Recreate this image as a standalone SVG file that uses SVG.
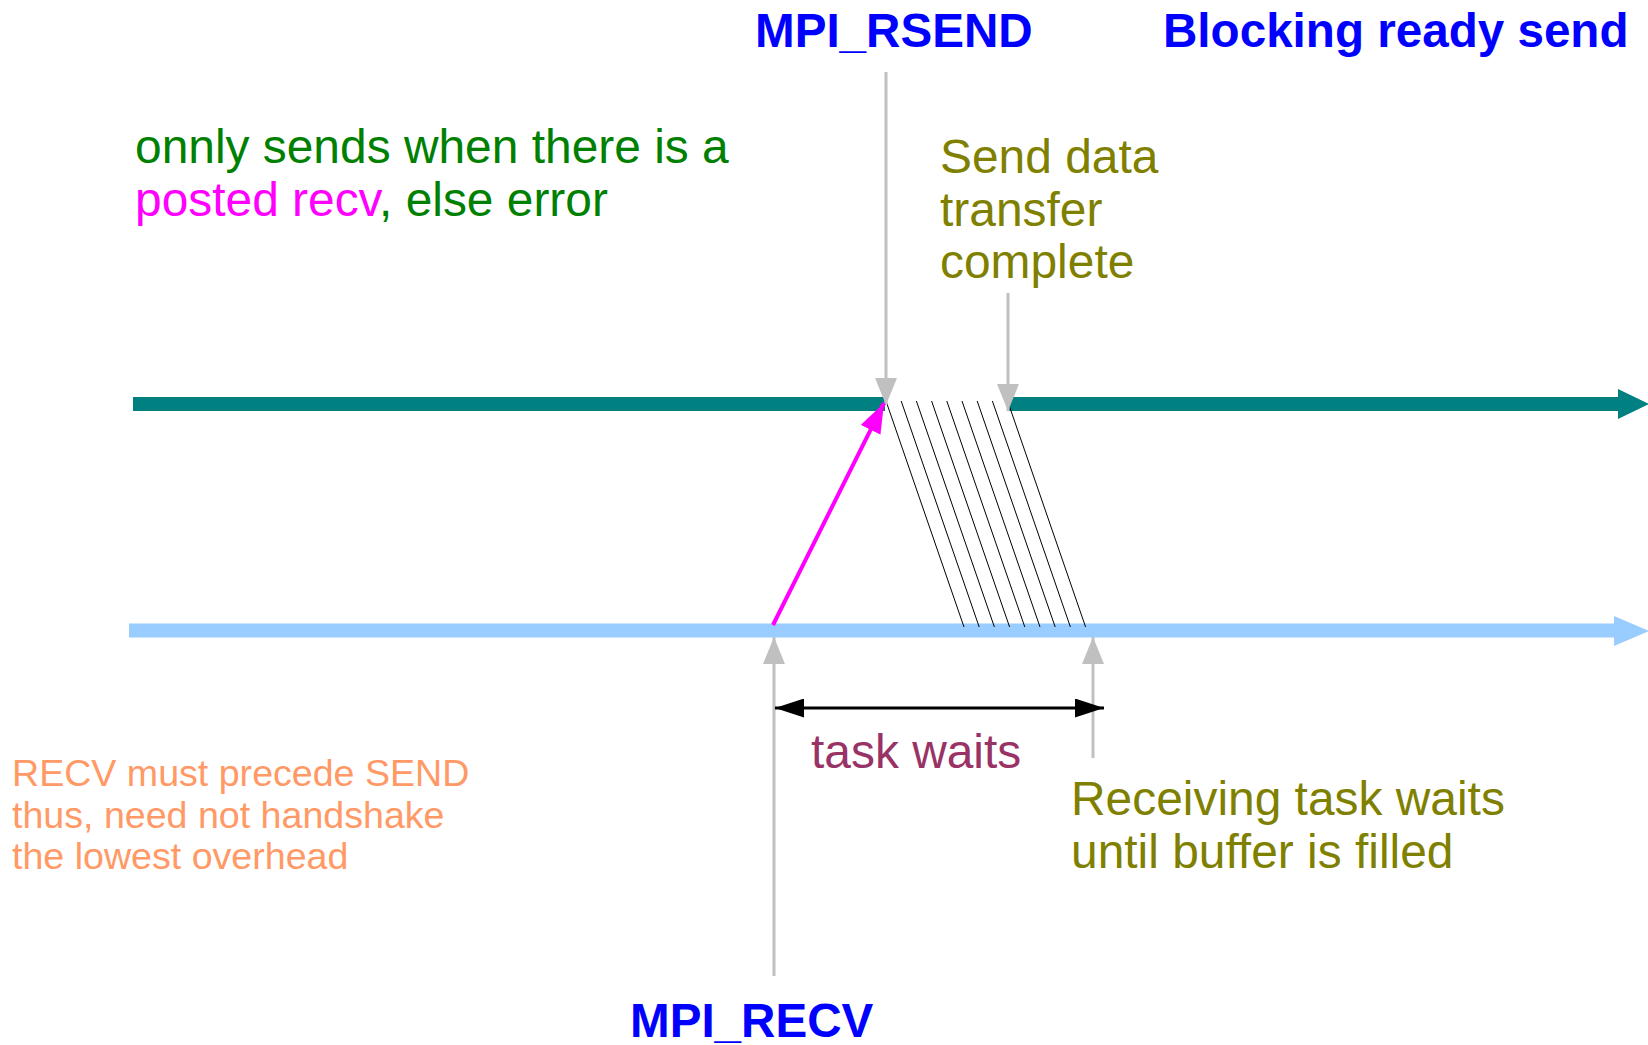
<svg xmlns="http://www.w3.org/2000/svg" width="1648" height="1045" viewBox="0 0 1648 1045">
<style>
text{font-family:"Liberation Sans",Arial,sans-serif}
.title{font-size:47.6px;font-weight:bold;fill:#0000ff}
.big{font-size:47.9px}
.green{fill:#008000}
.mag{fill:#ff00ff}
.olive{fill:#808000}
.orange{fill:#ff9966;font-size:37.6px}
.purple{fill:#993366}
.gray{stroke:#c0c0c0;stroke-width:3;fill:none}
.hatch{stroke:#000;stroke-width:1}
</style>
<defs>
<marker id="gh" markerUnits="userSpaceOnUse" markerWidth="27" markerHeight="22" refX="27" refY="11" orient="auto">
<path d="M0,0 L27,11 L0,22 z" fill="#c0c0c0"/>
</marker>
<marker id="bh" markerUnits="userSpaceOnUse" markerWidth="29" markerHeight="19" refX="29" refY="9.5" orient="auto-start-reverse">
<path d="M0,0 L29,9.5 L0,19 z" fill="#000"/>
</marker>
<marker id="mh" markerUnits="userSpaceOnUse" markerWidth="30" markerHeight="22" refX="30" refY="11" orient="auto">
<path d="M0,0 L30,11 L0,22 z" fill="#ff00ff"/>
</marker>
</defs>
<g id="timelines">
<line x1="133" y1="404" x2="885" y2="404" stroke="#008080" stroke-width="14"/>
<line x1="1009" y1="404" x2="1619" y2="404" stroke="#008080" stroke-width="14"/>
<polygon points="1618,389 1649,404 1618,419" fill="#008080"/>
<line x1="129" y1="630.5" x2="1615" y2="630.5" stroke="#99ccff" stroke-width="14"/>
<polygon points="1614,616 1649,631 1614,646" fill="#99ccff"/>
</g>
<g id="connectors">
<g id="transfer">
<line class="hatch" x1="886" y1="401" x2="964" y2="627"/>
<line class="hatch" x1="901.2" y1="401" x2="979.2" y2="627"/>
<line class="hatch" x1="916.4" y1="401" x2="994.4" y2="627"/>
<line class="hatch" x1="931.6" y1="401" x2="1009.6" y2="627"/>
<line class="hatch" x1="946.8" y1="401" x2="1024.8" y2="627"/>
<line class="hatch" x1="962" y1="401" x2="1040" y2="627"/>
<line class="hatch" x1="977.2" y1="401" x2="1055.2" y2="627"/>
<line class="hatch" x1="992.4" y1="401" x2="1070.4" y2="627"/>
<line class="hatch" x1="1007.6" y1="401" x2="1085.6" y2="627"/>
</g>
<line class="gray" x1="886" y1="72" x2="886" y2="405" marker-end="url(#gh)"/>
<line class="gray" x1="1008" y1="293" x2="1008" y2="411" marker-end="url(#gh)"/>
<line class="gray" x1="774" y1="976" x2="774" y2="637" marker-end="url(#gh)"/>
<line class="gray" x1="1093" y1="758" x2="1093" y2="637" marker-end="url(#gh)"/>
<line x1="773" y1="625" x2="884" y2="403" stroke="#ff00ff" stroke-width="4" marker-end="url(#mh)"/>
<line x1="775" y1="708" x2="1104" y2="708" stroke="#000" stroke-width="3" marker-start="url(#bh)" marker-end="url(#bh)"/>
</g>
<g id="mpi-rsend"><text class="title" x="755" y="47">MPI_RSEND</text></g>
<g id="title"><text class="title" x="1163" y="47">Blocking ready send</text></g>
<g id="mpi-recv"><text class="title" x="630" y="1037">MPI_RECV</text></g>
<g id="note-only">
<text class="big green" x="135" y="163">onnly sends when there is a</text>
<text class="big" x="135" y="216"><tspan class="mag">posted recv</tspan><tspan class="green">, else error</tspan></text>
</g>
<g id="send-complete">
<text class="big olive" x="940" y="173">Send data</text>
<text class="big olive" x="940" y="226">transfer</text>
<text class="big olive" x="940" y="278">complete</text>
</g>
<g id="task-waits"><text class="big purple" x="811" y="768">task waits</text></g>
<g id="recv-waits">
<text class="big olive" x="1071" y="815">Receiving task waits</text>
<text class="big olive" x="1071" y="868">until buffer is filled</text>
</g>
<g id="recv-note">
<text class="orange" x="12" y="786">RECV must precede SEND</text>
<text class="orange" x="12" y="828">thus, need not handshake</text>
<text class="orange" x="12" y="869">the lowest overhead</text>
</g>
</svg>
